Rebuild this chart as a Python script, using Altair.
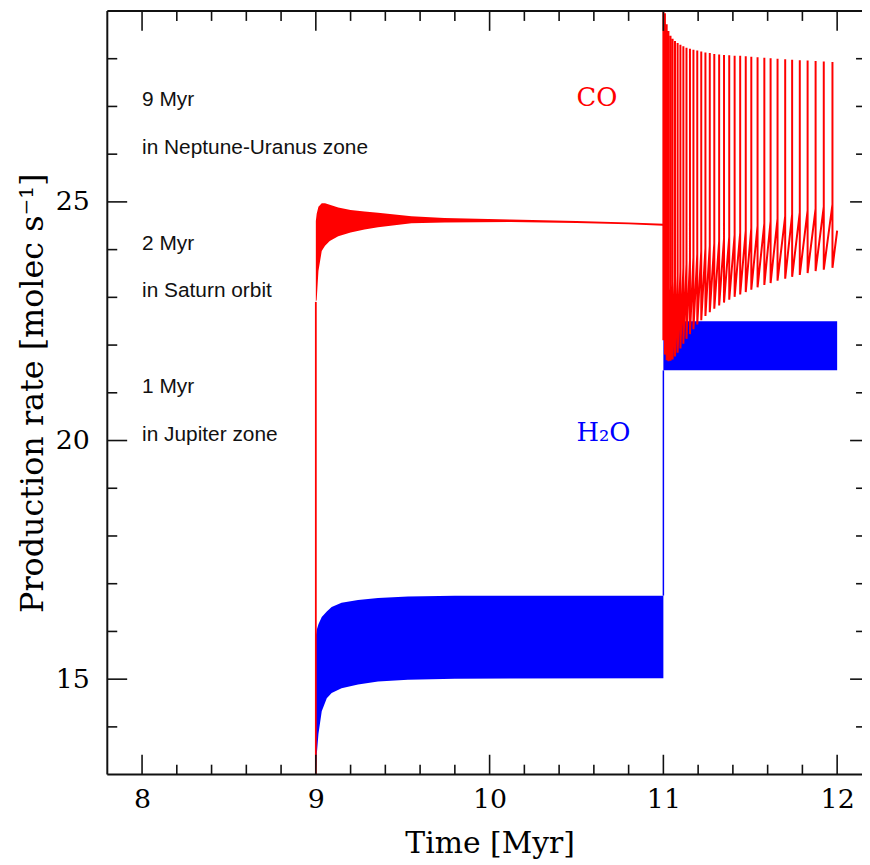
import altair as alt
import pandas as pd

W, H = 760, 769

# ---------------- data ----------------
# H2O, 9-11 Myr: envelopes of the fast oscillation
h2o_x = [9.0, 9.005, 9.015, 9.034, 9.063, 9.091, 9.148, 9.243, 9.358, 9.53, 9.8, 11.0]
h2o_lo = [13.0, 13.4, 13.85, 14.33, 14.6, 14.71, 14.81, 14.89, 14.95, 14.99, 15.01, 15.02]
h2o_hi = [15.9, 16.03, 16.15, 16.3, 16.42, 16.51, 16.6, 16.66, 16.70, 16.73, 16.75, 16.75]
# H2O, 11-12 Myr
h2o2_x = [11.0, 12.0]
h2o2_lo = [21.47, 21.47]
h2o2_hi = [22.5, 22.5]

# CO, 9-11 Myr envelopes
co_x = [9.0, 9.005, 9.015, 9.034, 9.053, 9.08, 9.129, 9.2, 9.28, 9.358, 9.55, 9.74, 10.12, 10.5, 10.8, 11.0]
co_hi = [24.6, 24.75, 24.9, 24.97, 24.97, 24.94, 24.88, 24.83, 24.80, 24.77, 24.70, 24.66, 24.63, 24.60, 24.57, 24.54]
co_lo = [22.9, 22.95, 23.55, 23.97, 24.08, 24.18, 24.28, 24.36, 24.42, 24.47, 24.55, 24.57, 24.58, 24.56, 24.53, 24.50]

# CO, 11-12 Myr: spikes (time, value before spike, spike top, trough after spike)
spike_x = [11.000, 11.009, 11.019, 11.029, 11.041, 11.053, 11.067, 11.082, 11.098, 11.115,
           11.133, 11.153, 11.173, 11.195, 11.218, 11.242, 11.267, 11.293, 11.321, 11.349,
           11.379, 11.410, 11.442, 11.474, 11.506, 11.542, 11.581, 11.617, 11.657, 11.701,
           11.741, 11.785, 11.830, 11.876, 11.923, 11.973]
spike_pre = [24.52, 23.0, 23.05, 23.12, 23.2, 23.28, 23.36, 23.45, 23.54, 23.62,
             23.7, 23.77, 23.84, 23.91, 23.97, 24.03, 24.08, 24.13, 24.18, 24.23,
             24.27, 24.31, 24.35, 24.40, 24.45, 24.50, 24.55, 24.60, 24.65, 24.70,
             24.74, 24.78, 24.82, 24.86, 24.90, 24.95]
spike_top = [29.4, 28.95, 28.72, 28.58, 28.48, 28.42, 28.37, 28.33, 28.29, 28.26,
             28.23, 28.21, 28.19, 28.17, 28.15, 28.13, 28.12, 28.10, 28.09, 28.08,
             28.07, 28.06, 28.06, 28.05, 28.04, 28.03, 28.02, 28.01, 28.00, 27.99,
             27.98, 27.97, 27.96, 27.95, 27.94, 27.93]
spike_low = [22.1, 21.8, 21.68, 21.66, 21.67, 21.70, 21.76, 21.84, 21.93, 22.03,
             22.13, 22.23, 22.33, 22.43, 22.52, 22.61, 22.69, 22.76, 22.83, 22.89,
             22.95, 23.01, 23.06, 23.11, 23.16, 23.21, 23.26, 23.30, 23.35, 23.39,
             23.43, 23.47, 23.51, 23.55, 23.58, 23.62]
co_end_x = 12.0
co_end_y = 24.40

# vertical jumps
jump_x = [9.0, 11.0]
jump_from = [13.0, 16.75]
jump_to = [22.9, 21.47]
jump_sp = ["CO", "H2O"]

# annotations
note_text = ["9 Myr", "in Neptune-Uranus zone", "2 Myr", "in Saturn orbit", "1 Myr", "in Jupiter zone"]
note_x = [8.0, 8.0, 8.0, 8.0, 8.0, 8.0]
note_y = [27, 26, 24, 23, 21, 20]
species_text = ["CO", "H\u2082O"]
species_key = ["CO", "H2O"]
species_x = [10.5, 10.5]
species_y = [27, 20]

# axis ticks
x_major = [8, 9, 10, 11, 12]
x_minor = [8.2, 8.4, 8.6, 8.8, 9.2, 9.4, 9.6, 9.8, 10.2, 10.4, 10.6, 10.8, 11.2, 11.4, 11.6, 11.8]
y_major = [15, 20, 25]
y_minor = [14, 16, 17, 18, 19, 21, 22, 23, 24, 26, 27, 28]

# ---------------- build tables ----------------
df_h2o = pd.concat([
    pd.DataFrame({"x": h2o_x, "lo": h2o_lo, "hi": h2o_hi, "seg": "a"}),
    pd.DataFrame({"x": h2o2_x, "lo": h2o2_lo, "hi": h2o2_hi, "seg": "b"}),
])
df_co = pd.DataFrame({"x": co_x, "lo": co_lo, "hi": co_hi})
rows = []
for k in range(len(spike_x)):
    rows.append((spike_x[k], spike_pre[k]))
    rows.append((spike_x[k], spike_top[k]))
    rows.append((spike_x[k], spike_low[k]))
rows.append((co_end_x, co_end_y))
df_spk = pd.DataFrame(rows, columns=["x", "y"])
df_spk["i"] = range(len(df_spk))
df_jump = pd.DataFrame({"x": jump_x, "y": jump_from, "y2": jump_to, "sp": jump_sp})
df_note = pd.DataFrame({"x": note_x, "y": note_y, "t": note_text})
df_sp = pd.DataFrame({"x": species_x, "y": species_y, "t": species_text, "sp": species_key})
one = pd.DataFrame({"k": [0]})

xs = alt.Scale(domain=[7.8, 12.143], nice=False, zero=False)
ys = alt.Scale(domain=[13, 29], nice=False, zero=False)
cs = alt.Scale(domain=["CO", "H2O"], range=["#ff0000", "#0000ff"])

SERIF = "DejaVu Serif"
x_axis = alt.Axis(values=x_major, format="d", ticks=False, domain=False, grid=False,
                  labelFont=SERIF, labelFontSize=27, labelColor="black", labelPadding=12,
                  title="Time [Myr]", titleFont=SERIF, titleFontSize=30, titleFontWeight="normal",
                  titleColor="black", titleX=385, titleY=78, titleBaseline="alphabetic", titleAlign="center")
y_axis = alt.Axis(values=y_major, format="d", ticks=False, domain=False, grid=False,
                  labelFont=SERIF, labelFontSize=27, labelColor="black", labelPadding=18,
                  title="Production rate [molec s\u207b\u00b9]", titleFont=SERIF, titleFontSize=32,
                  titleFontWeight="normal", titleColor="black", titleAngle=270,
                  titleX=-65, titleY=H / 2, titleBaseline="alphabetic", titleAlign="center")


def X(f):
    return alt.X(f, scale=xs, axis=x_axis)


def Y(f):
    return alt.Y(f, scale=ys, axis=y_axis)


h2o_area = alt.Chart(df_h2o).mark_area(color="#0000ff", opacity=1, clip=True).encode(
    x=X("x:Q"), y=Y("lo:Q"), y2="hi:Q", detail="seg:N")
jump_h2o = alt.Chart(df_jump[df_jump.sp == "H2O"]).mark_rule(strokeWidth=1.5, color="#0000ff").encode(
    x=X("x:Q"), y=Y("y:Q"), y2="y2:Q")
co_area = alt.Chart(df_co).mark_area(color="#ff0000", opacity=1, clip=True).encode(
    x=X("x:Q"), y=Y("lo:Q"), y2="hi:Q")
jump_co = alt.Chart(df_jump[df_jump.sp == "CO"]).mark_rule(strokeWidth=1.8, color="#ff0000").encode(
    x=X("x:Q"), y=Y("y:Q"), y2="y2:Q")
spikes = alt.Chart(df_spk).mark_line(color="#ff0000", strokeWidth=2, clip=True).encode(
    x=X("x:Q"), y=Y("y:Q"), order="i:Q")

notes = alt.Chart(df_note).mark_text(align="left", baseline="alphabetic", font="Liberation Sans",
                                     fontSize=21, color="#111111").encode(
    x=X("x:Q"), y=Y("y:Q"), text="t:N")
sp_labels = alt.Chart(df_sp).mark_text(align="left", baseline="alphabetic", font=SERIF,
                                       fontSize=26).encode(
    x=X("x:Q"), y=Y("y:Q"), text="t:N",
    color=alt.Color("sp:N", scale=cs, legend=None))

FR = "#111111"
frame_left = alt.Chart(one).mark_rule(color=FR, strokeWidth=2).encode(
    x=alt.value(0), y=alt.value(0), y2=alt.value(H))
frame_top = alt.Chart(one).mark_rule(color=FR, strokeWidth=2).encode(
    x=alt.value(0), x2=alt.value(W), y=alt.value(0))
frame_bot = alt.Chart(one).mark_rule(color=FR, strokeWidth=2).encode(
    x=alt.value(0), x2=alt.value(W), y=alt.value(H))


def xticks(vals, length):
    d = pd.DataFrame({"t": vals})
    b = alt.Chart(d).mark_rule(color=FR, strokeWidth=1.6).encode(
        x=X("t:Q"), y=alt.value(H), y2=alt.value(H - length))
    t = alt.Chart(d).mark_rule(color=FR, strokeWidth=1.6).encode(
        x=X("t:Q"), y=alt.value(0), y2=alt.value(length))
    return b + t


def yticks(vals, length, right_len):
    d = pd.DataFrame({"t": vals})
    l = alt.Chart(d).mark_rule(color=FR, strokeWidth=1.6).encode(
        y=Y("t:Q"), x=alt.value(0), x2=alt.value(length))
    r = alt.Chart(d).mark_rule(color=FR, strokeWidth=1.6).encode(
        y=Y("t:Q"), x=alt.value(W - right_len), x2=alt.value(W))
    return l + r


chart = alt.layer(
    h2o_area, jump_h2o, co_area, jump_co, spikes, notes, sp_labels,
    frame_left, frame_top, frame_bot,
    xticks(x_major, 20), xticks(x_minor, 10),
    yticks(y_major, 20, 12), yticks(y_minor, 10, 6),
).properties(
    width=W, height=H,
    autosize=alt.AutoSizeParams(type="none"),
    padding={"left": 100, "top": 0, "right": 0, "bottom": 86},
    background="white",
).configure_view(stroke=None)

chart.save("out.html", embed_options={"renderer": "svg", "actions": False})
